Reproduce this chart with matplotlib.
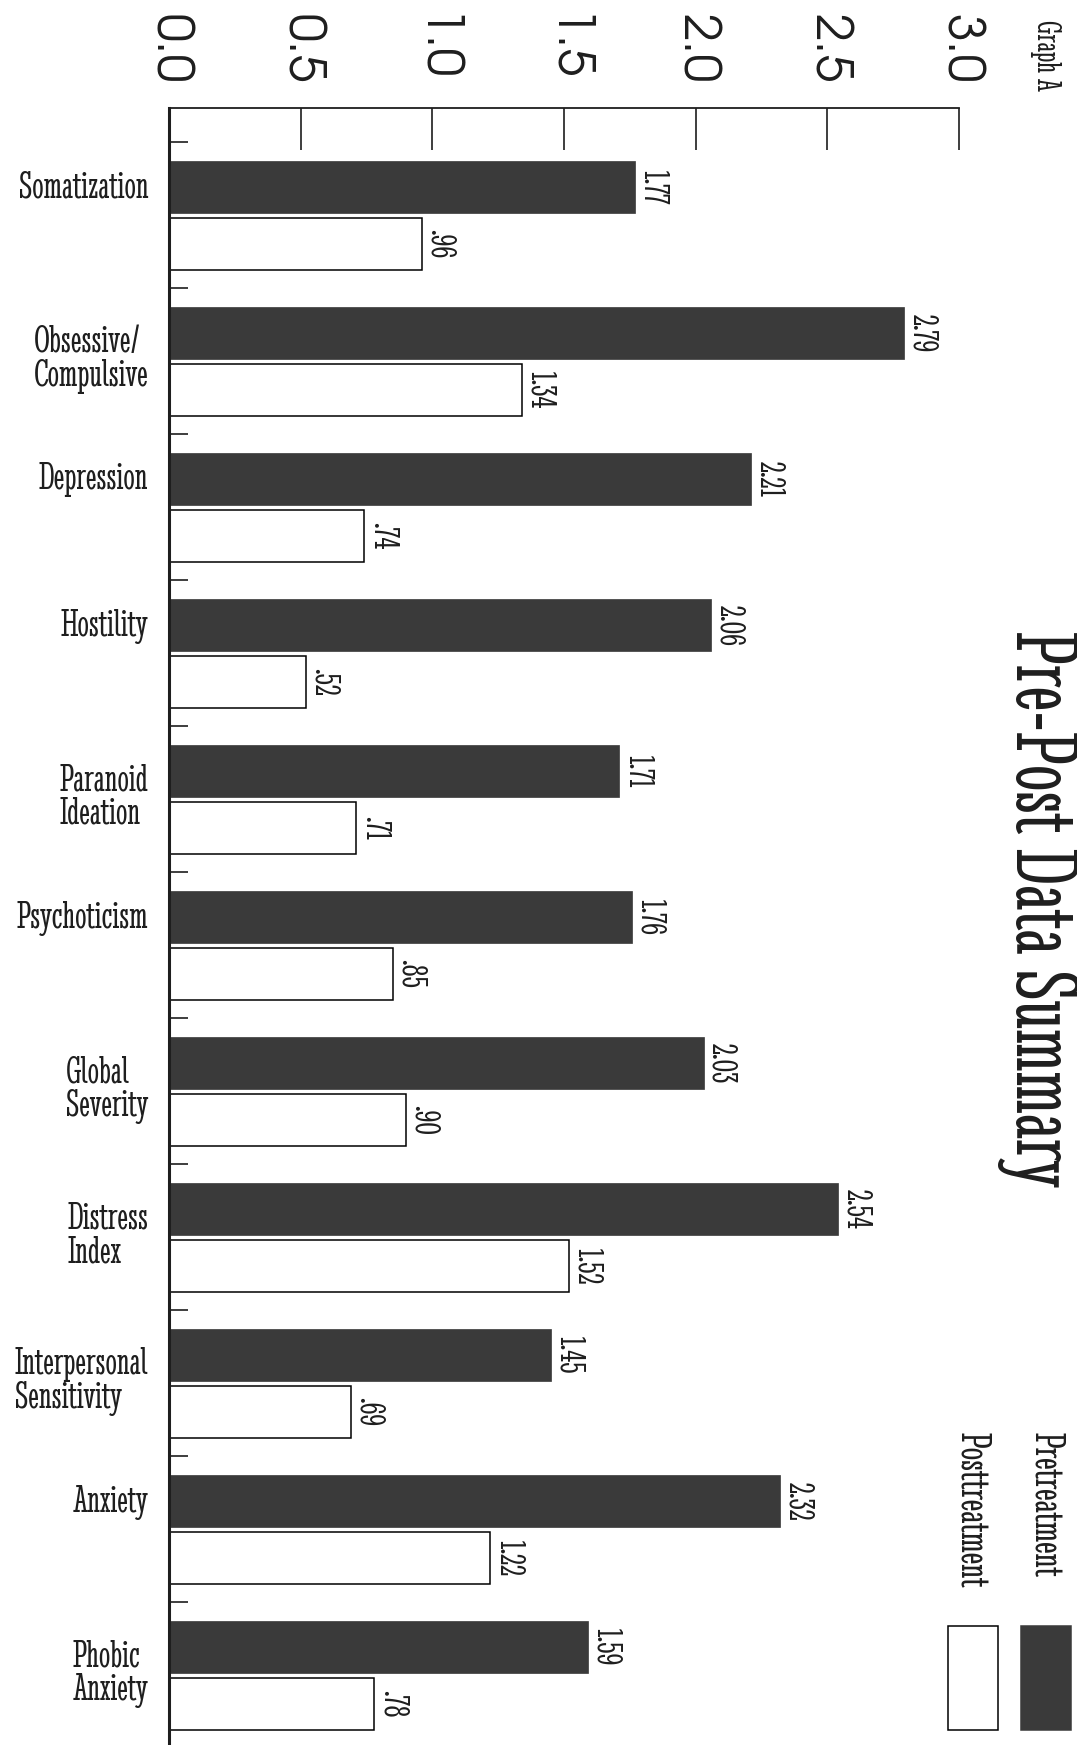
import matplotlib
matplotlib.use('Agg')
import matplotlib.pyplot as plt
import numpy as np
from matplotlib.patches import Rectangle
from matplotlib.ticker import FixedLocator

# ---------------- data ----------------
categories = ["Somatization", "Obsessive/\nCompulsive", "Depression", "Hostility",
              "Paranoid\nIdeation", "Psychoticism", "Global\nSeverity", "Distress\nIndex",
              "Interpersonal\nSensitivity", "Anxiety", "Phobic\nAnxiety"]
pretreatment = [1.77, 2.79, 2.21, 2.06, 1.71, 1.76, 2.03, 2.54, 1.45, 2.32, 1.59]
posttreatment = [0.96, 1.34, 0.74, 0.52, 0.71, 0.85, 0.90, 1.52, 0.69, 1.22, 0.78]
value_ticks = [0.0, 0.5, 1.0, 1.5, 2.0, 2.5, 3.0]
value_tick_labels = ["0.0", "0.5", "1.0", "1.5", "2.0", "2.5", "3.0"]
series_names = ["Pretreatment", "Posttreatment"]
title_text = "Pre-Post Data Summary"
graph_label = "Graph A"

# ---------------- style ----------------
COND = ['Stint Ultra Condensed', 'DejaVu Serif']
TICKF = ['TeX Gyre Adventor', 'DejaVu Sans']
PRE_COLOR = '#3a3a3a'
POST_COLOR = '#ffffff'
INK = '#1e1e1e'

W, H = 1077, 1745
fig = plt.figure(figsize=(W / 100, H / 100), dpi=100)
fig.patch.set_facecolor('white')

ax_left, ax_right, ax_top = 169, 959, 108
ax = fig.add_axes([ax_left / W, 0.0, (ax_right - ax_left) / W, 1 - ax_top / H])

idx = np.arange(len(categories))
pre_off, post_off, bar_h = 0.31, 0.70, 0.36

ax.barh(idx + pre_off, pretreatment, height=bar_h, color=PRE_COLOR, edgecolor=PRE_COLOR,
        linewidth=0.5, label=series_names[0], zorder=2)
ax.barh(idx + post_off, posttreatment, height=bar_h, color=POST_COLOR, edgecolor='black',
        linewidth=1.1, label=series_names[1], zorder=2)


def fmt(v):
    s = f"{v:.2f}"
    return s[1:] if s.startswith("0") else s


for yy, v in zip(idx + pre_off, pretreatment):
    ax.annotate(fmt(v), (v, yy), xytext=(2, 0), textcoords='offset pixels', rotation=-90,
                ha='left', va='center', fontsize=27, family=COND, color=INK)
for yy, v in zip(idx + post_off, posttreatment):
    ax.annotate(fmt(v), (v, yy), xytext=(2, 0), textcoords='offset pixels', rotation=-90,
                ha='left', va='center', fontsize=27, family=COND, color=INK)

ax.set_xlim(0, 3.0)
ax.set_ylim(10.98, -0.23)

# value axis on top
ax.xaxis.tick_top()
ax.set_xticks(value_ticks)
ax.set_xticklabels(value_tick_labels, rotation=-90, fontsize=36, family=TICKF, color='#333333')
ax.tick_params(axis='x', direction='in', length=30, width=1.2, pad=18, colors=INK)

# category axis
label_pos = [i + (0.47 if "\n" in c else 0.29) for i, c in zip(idx, categories)]
ax.yaxis.set_major_locator(FixedLocator(label_pos))
ax.set_yticklabels(categories, fontsize=29, family=COND, color=INK)
for t in ax.get_yticklabels():
    t.set_multialignment('left')
    t.set_linespacing(0.95)
ax.yaxis.set_minor_locator(FixedLocator(list(idx)))
ax.tick_params(axis='y', which='major', length=0, pad=15)
ax.tick_params(axis='y', which='minor', direction='in', length=14, width=1.2, color=INK)

for s in ['right', 'bottom']:
    ax.spines[s].set_visible(False)
ax.spines['top'].set_linewidth(1.3)
ax.spines['left'].set_linewidth(2.2)
ax.spines['top'].set_color(INK)
ax.spines['left'].set_color(INK)

# titles
fig.text(1045 / W, 1 - 55 / H, graph_label, rotation=-90, ha='center', va='center',
         fontsize=25, family=COND, color=INK)
fig.text(1038 / W, 1 - 909 / H, title_text, rotation=-90, ha='center', va='center',
         fontsize=67, family=COND, color=INK)

# legend (rotated, drawn manually)
leg = [(series_names[0], PRE_COLOR, PRE_COLOR, 1046, 1021), (series_names[1], POST_COLOR, 'black', 972, 948)]
for name, fc, ec, tx, sx in leg:
    fig.text(tx / W, 1 - 1432 / H, name, rotation=-90, ha='center', va='top',
             fontsize=32, family=COND, color=INK)
    fig.patches.append(Rectangle((sx / W, 1 - 1730 / H), 50 / W, 104 / H, transform=fig.transFigure,
                                 facecolor=fc, edgecolor=ec, linewidth=1.1))

fig.savefig('out.png', dpi=100)
